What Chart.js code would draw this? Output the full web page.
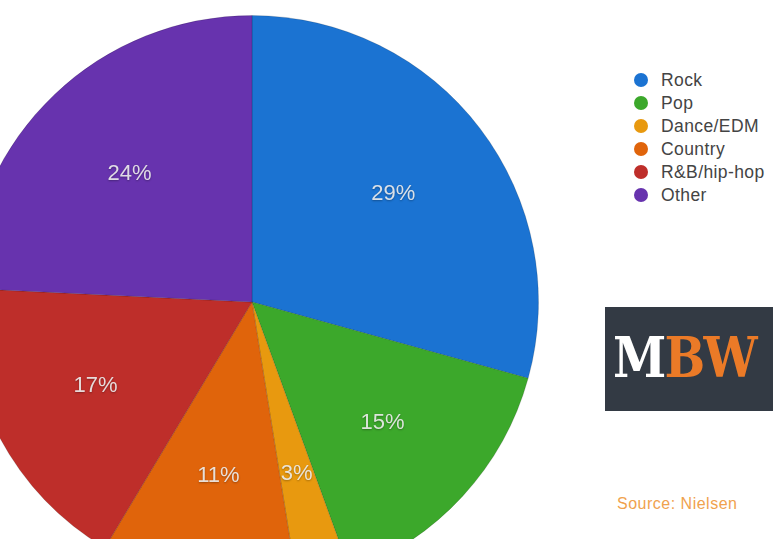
<!DOCTYPE html>
<html lang="en">
<head>
  <meta charset="UTF-8">
  <title>Music genres share - Nielsen</title>
  <script src="https://cdn.jsdelivr.net/npm/chart.js"></script>
  <style>
    body {
      margin: 0;
      width: 773px;
      height: 539px;
      overflow: hidden;
      position: relative;
      background: #fff;
      font-family: 'Liberation Sans', 'Helvetica Neue', Arial, sans-serif;
    }
    #pieWrap {
      position: absolute;
      left: -48px;
      top: 2px;
      width: 600px;
      height: 600px;
    }
    #legend {
      position: absolute;
      left: 634px;
      top: 69px;
      margin: 0;
      padding: 0;
      list-style: none;
    }
    #legend li {
      height: 23px;
      line-height: 22px;
      font-size: 17.5px;
      letter-spacing: 0.4px;
      color: #444;
      white-space: nowrap;
    }
    #legend span {
      display: inline-block;
      width: 14px;
      height: 14px;
      border-radius: 50%;
      margin-right: 13px;
      vertical-align: -1px;
    }
    .logo {
      position: absolute;
      left: 605px;
      top: 307px;
      width: 180px;
      height: 104px;
      background: #333a44;
    }
    .logo div {
      position: absolute;
      left: 8px;
      top: 20px;
      font-family: 'DejaVu Serif', serif;
      font-weight: bold;
      font-size: 56px;
      letter-spacing: -2px;
      line-height: 60px;
      transform: scaleX(0.86);
      transform-origin: left center;
    }
    .logo .m { color: #fff; }
    .logo .bw { color: #eb7a27; }
    .source {
      position: absolute;
      left: 617px;
      top: 495px;
      font-size: 16px;
      letter-spacing: 0.5px;
      color: #f0a24e;
    }
  </style>
</head>
<body>
  <div id="pieWrap"><canvas id="genreChart"></canvas></div>
  <ul id="legend"></ul>
  <div class="logo"><div><span class="m">M</span><span class="bw">BW</span></div></div>
  <div class="source">Source: Nielsen</div>

  <script>
    const genres = ['Rock', 'Pop', 'Dance/EDM', 'Country', 'R&B/hip-hop', 'Other'];
    const shares = [29, 15, 3, 11, 17, 24];
    const colors = ['#1b73d2', '#3ca82b', '#e8990f', '#e0640b', '#be2e2a', '#6733ae'];

    // percentage labels drawn inside each slice
    const sliceLabels = {
      id: 'sliceLabels',
      afterDatasetsDraw(chart) {
        const ctx = chart.ctx;
        const meta = chart.getDatasetMeta(0);
        ctx.save();
        ctx.font = '22px "Liberation Sans", Arial, sans-serif';
        ctx.textAlign = 'center';
        ctx.textBaseline = 'middle';
        meta.data.forEach((arc, i) => {
          const p = arc.getProps(['x', 'y', 'startAngle', 'endAngle', 'outerRadius']);
          const mid = (p.startAngle + p.endAngle) / 2;
          const r = p.outerRadius * 0.62;
          const x = p.x + Math.cos(mid) * r;
          const y = p.y + Math.sin(mid) * r;
          ctx.shadowColor = 'rgba(0,0,0,0.35)';
          ctx.shadowBlur = 2;
          ctx.shadowOffsetY = 1;
          ctx.fillStyle = 'rgba(238,238,238,0.9)';
          ctx.fillText(shares[i] + '%', x, y);
        });
        ctx.restore();
      }
    };

    const chart = new Chart(document.getElementById('genreChart'), {
      type: 'pie',
      data: {
        labels: genres,
        datasets: [{
          data: shares,
          backgroundColor: colors,
          borderColor: 'rgba(0,0,0,0.15)',
          borderWidth: 1
        }]
      },
      options: {
        responsive: true,
        maintainAspectRatio: false,
        animation: false,
        layout: { padding: 13 },
        plugins: {
          legend: { display: false },
          tooltip: { enabled: false }
        }
      },
      plugins: [sliceLabels]
    });

    // legend list built from the chart's labels
    const legendEl = document.getElementById('legend');
    chart.options.plugins.legend.labels.generateLabels(chart).forEach(item => {
      const li = document.createElement('li');
      const dot = document.createElement('span');
      dot.style.background = item.fillStyle;
      li.appendChild(dot);
      li.appendChild(document.createTextNode(item.text));
      legendEl.appendChild(li);
    });
  </script>
</body>
</html>
